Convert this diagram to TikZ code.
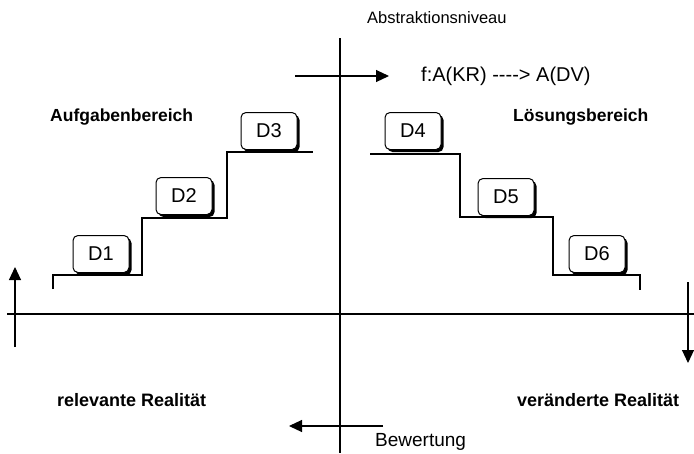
\documentclass[tikz,border=0pt]{standalone}
\usepackage{fontspec}
\setmainfont{Liberation Sans}[Ligatures=TeXOff]
\usetikzlibrary{arrows.meta,shadows}
\begin{document}
\begin{tikzpicture}[x=1pt,y=-1pt,
  axis/.style={line width=1.1pt},
  stair/.style={line width=1.1pt},
  dbox/.style={draw, line width=1pt, rounded corners=5pt, fill=white,
    minimum width=56pt, minimum height=37pt, inner sep=0pt,
    font=\fontsize{20}{22}\selectfont,
    drop shadow={shadow xshift=2.5pt, shadow yshift=-2.5pt, fill=black, opacity=1}},
  flow/.style={line width=1.1pt, -{Triangle[length=13pt,width=12pt]}},
  txt/.style={anchor=west, inner sep=0pt, font=\fontsize{19}{21}\selectfont},
  area/.style={anchor=west, inner sep=0pt, font=\fontsize{17.5}{20}\selectfont\bfseries},
  realm/.style={area, font=\fontsize{18}{20}\selectfont\bfseries}
]
\useasboundingbox[fill=white] (0,0) rectangle (694,453);

% axes
\coordinate (xl) at (7,314);
\coordinate (xr) at (694,314);
\coordinate (yt) at (340,38);
\coordinate (yb) at (340,453);
\draw[axis] (xl) -- (xr);
\draw[axis] (yt) -- (yb);

% axis labels
\node[txt, font=\fontsize{16.5}{18}\selectfont] (abs) at (367,18) {Abstraktionsniveau};
\node[txt, font=\fontsize{20}{22}\selectfont] (map) at (421,76) {f:A(KR) ----> A(DV)};
\node[txt] (bew) at (375,442) {Bewertung};

% quadrant labels
\node[area] (auf) at (50,117) {Aufgabenbereich};
\node[area] (loe) at (513,117) {Lösungsbereich};
\node[realm] (rel) at (57,400) {relevante Realität};
\node[realm] (ver) at (517,400) {veränderte Realität};

% direction arrows
\coordinate (ta) at (295,76);  \coordinate (tb) at (389,76);
\coordinate (ba) at (383,426); \coordinate (bb) at (289,426);
\coordinate (la) at (15,347);  \coordinate (lb) at (15,267);
\coordinate (ra) at (688,282); \coordinate (rb) at (688,363);
\draw[flow] (ta) -- (tb);
\draw[flow] (ba) -- (bb);
\draw[flow] (la) -- (lb);
\draw[flow] (ra) -- (rb);

% ascending stairs
\draw[stair] (53,289) -- (53,275) -- (142,275) -- (142,218) -- (227,218) -- (227,152) -- (313,152);
% descending stairs
\draw[stair] (370,154) -- (460,154) -- (460,217) -- (553,217) -- (553,275) -- (640,275) -- (640,290);

% steps
\node[dbox] (d1) at (101,254) {D1};
\node[dbox] (d2) at (184,196) {D2};
\node[dbox] (d3) at (269,131) {D3};
\node[dbox] (d4) at (413,131) {D4};
\node[dbox] (d5) at (506,197) {D5};
\node[dbox] (d6) at (597,254) {D6};
\end{tikzpicture}
\end{document}
